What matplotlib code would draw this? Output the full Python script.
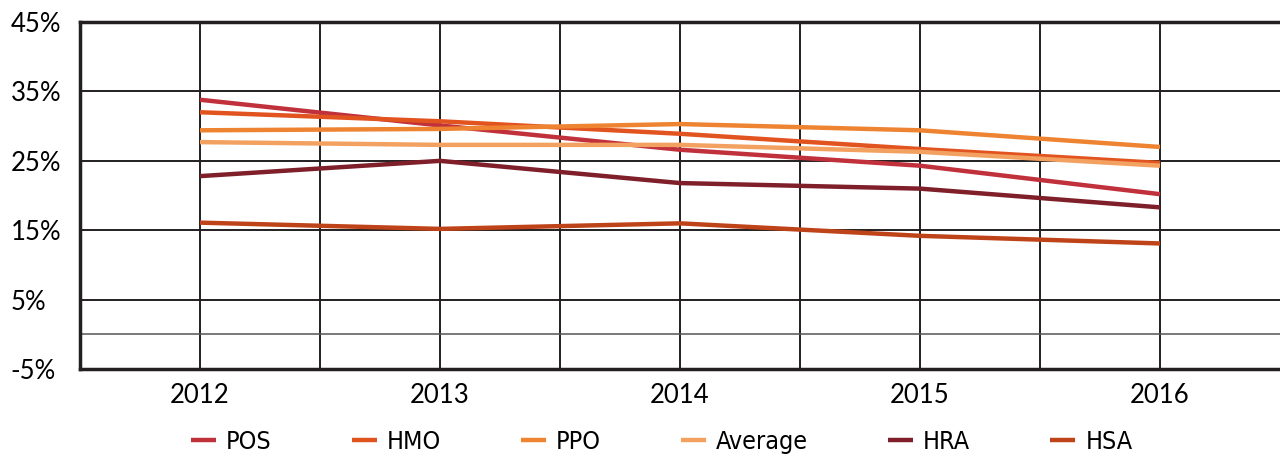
import matplotlib.pyplot as plt
import numpy as np

years = ['2012', '2013', '2014', '2015', '2016']
pos = [33.8, 30.1, 26.6, 24.3, 20.2]
hmo = [32.0, 30.7, 28.9, 26.7, 24.7]
ppo = [29.4, 29.6, 30.3, 29.4, 27.0]
average = [27.7, 27.3, 27.3, 26.3, 24.3]
hra = [22.8, 25.0, 21.8, 21.0, 18.3]
hsa = [16.1, 15.2, 16.0, 14.2, 13.1]

series = [
    ('POS', pos, '#c0313b'),
    ('HMO', hmo, '#e2541f'),
    ('PPO', ppo, '#ee8432'),
    ('Average', average, '#f3a160'),
    ('HRA', hra, '#7f1f2a'),
    ('HSA', hsa, '#bf4319'),
]

fig = plt.figure(figsize=(12.8, 4.58), dpi=100)
ax = fig.add_axes([0.0625, 0.194, 0.9375, 0.758])

x = np.arange(len(years))
for name, vals, col in series:
    ax.plot(x, vals, color=col, lw=3.2, label=name, solid_capstyle='butt', zorder=3)

ax.set_xlim(-0.5, 4.5)
ax.set_ylim(-5, 45)

# grid lines
for gx in np.arange(0, 4.01, 0.5):
    ax.axvline(gx, color='#231f20', lw=1.4, zorder=1)
for gy in [5, 15, 25, 35]:
    ax.axhline(gy, color='#231f20', lw=1.4, zorder=1)
ax.axhline(0, color='#555555', lw=1.1, zorder=1)

for s in ['left', 'top', 'bottom']:
    ax.spines[s].set_linewidth(2.5)
    ax.spines[s].set_color('#231f20')
ax.spines['right'].set_visible(False)

ax.set_xticks(x)
ax.set_xticklabels(years, fontsize=18.5, fontfamily='Lato')
ax.set_yticks([-5, 5, 15, 25, 35, 45])
ax.set_yticklabels(['-5%', '5%', '15%', '25%', '35%', '45%'], fontsize=18.5, fontfamily='Lato')
ax.tick_params(axis='both', length=0)
ax.tick_params(axis='x', pad=10)
ax.tick_params(axis='y', pad=50)
for lab in ax.get_yticklabels():
    lab.set_ha('left')

fig.legend(loc='center', bbox_to_anchor=(0.517, 0.036), ncol=6, frameon=False,
           handlelength=1.0, columnspacing=3.2, handletextpad=0.4,
           prop={'family': 'DejaVu Sans', 'stretch': 'condensed', 'size': 18})

fig.savefig('out.png', dpi=100)
